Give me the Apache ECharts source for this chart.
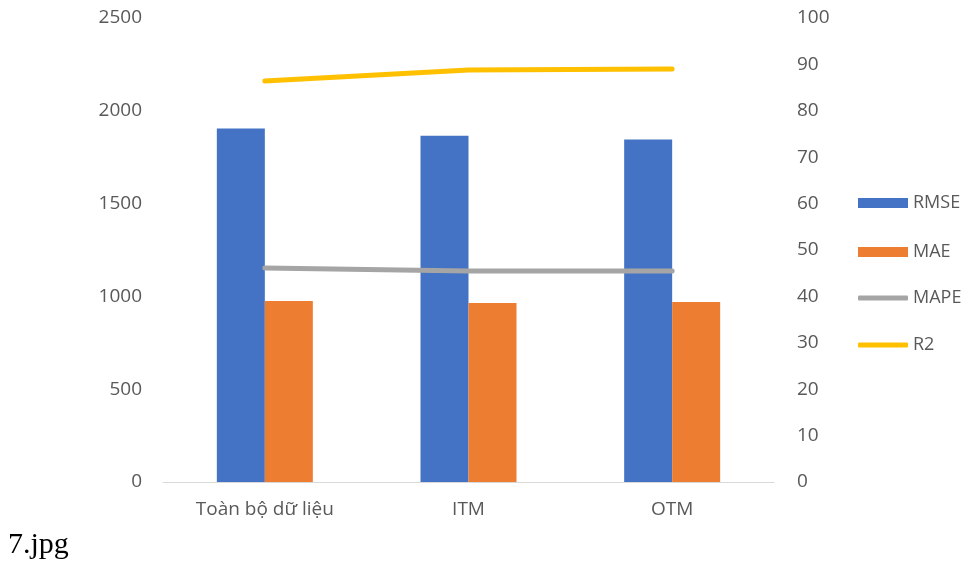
<!DOCTYPE html>
<html>
<head>
<meta charset="utf-8">
<script src="https://cdn.jsdelivr.net/npm/echarts@6/dist/echarts.min.js"></script>
<style>
  html, body { margin: 0; padding: 0; background: #ffffff; }
  #chart { width: 971px; height: 561px; }
</style>
</head>
<body>
<div id="chart"></div>
<script>
// Model error metrics by data subset
const categories = ['Toàn bộ dữ liệu', 'ITM', 'OTM'];
const rmse = [1905, 1865, 1845];
const mae = [975, 965, 970];
const mape = [46.1, 45.5, 45.5];
const r2 = [86.4, 88.8, 89.0];
const leftTicks = { min: 0, max: 2500, interval: 500 };
const rightTicks = { min: 0, max: 100, interval: 10 };

const textColor = '#595959';
const labelFont = 'Open Sans';

const chart = echarts.init(document.getElementById('chart'), null, { renderer: 'canvas' });

chart.setOption({
  animation: false,
  backgroundColor: '#ffffff',
  grid: { left: 163, right: 197, top: 18, bottom: 79, containLabel: false },
  legend: [
    {
      orient: 'vertical',
      left: 858,
      top: 194,
      padding: 0,
      itemWidth: 50,
      itemHeight: 10,
      itemGap: 31,
      icon: 'rect',
      data: ['RMSE', 'MAE'],
      textStyle: { color: textColor, fontSize: 18, fontFamily: labelFont }
    },
    {
      orient: 'vertical',
      left: 858,
      top: 289,
      padding: 0,
      itemWidth: 50,
      itemHeight: 5,
      itemGap: 29,
      icon: 'roundRect',
      data: ['MAPE', 'R2'],
      textStyle: { color: textColor, fontSize: 18, fontFamily: labelFont }
    }
  ],
  xAxis: {
    type: 'category',
    data: categories,
    axisLine: { show: true, lineStyle: { color: '#D9D9D9', width: 1 } },
    axisTick: { show: false },
    axisLabel: { color: textColor, fontSize: 19, fontFamily: labelFont, margin: 18 }
  },
  yAxis: [
    {
      type: 'value',
      min: leftTicks.min, max: leftTicks.max, interval: leftTicks.interval,
      axisLine: { show: false },
      axisTick: { show: false },
      splitLine: { show: false },
      axisLabel: { color: textColor, fontSize: 19, fontFamily: labelFont, margin: 21, formatter: v => String(v) }
    },
    {
      type: 'value',
      position: 'right',
      min: rightTicks.min, max: rightTicks.max, interval: rightTicks.interval,
      axisLine: { show: false },
      axisTick: { show: false },
      splitLine: { show: false },
      axisLabel: { color: textColor, fontSize: 19, fontFamily: labelFont, margin: 23, formatter: v => String(v) }
    }
  ],
  series: [
    {
      name: 'RMSE', type: 'bar', yAxisIndex: 0, data: rmse,
      barWidth: 48, barGap: '0%',
      itemStyle: { color: '#4472C4' }
    },
    {
      name: 'MAE', type: 'bar', yAxisIndex: 0, data: mae,
      barWidth: 48, barGap: '0%',
      itemStyle: { color: '#ED7D31' }
    },
    {
      name: 'MAPE', type: 'line', yAxisIndex: 1, data: mape,
      symbol: 'none',
      lineStyle: { color: '#A5A5A5', width: 5, cap: 'round' },
      itemStyle: { color: '#A5A5A5' }
    },
    {
      name: 'R2', type: 'line', yAxisIndex: 1, data: r2,
      symbol: 'none',
      lineStyle: { color: '#FFC000', width: 5, cap: 'round' },
      itemStyle: { color: '#FFC000' }
    }
  ],
  graphic: [
    {
      type: 'text',
      left: 8,
      top: 530,
      style: { text: '7.jpg', fill: '#000000', fontSize: 30, fontFamily: 'Liberation Serif' }
    }
  ]
});
</script>
</body>
</html>
